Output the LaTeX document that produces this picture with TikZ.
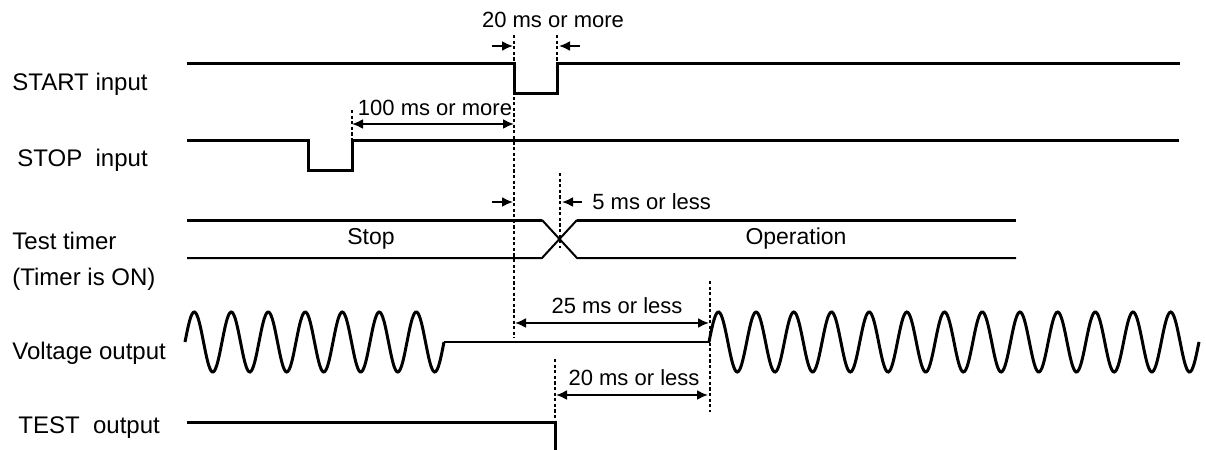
\documentclass[tikz,border=0pt]{standalone}
\usepackage{fontspec}
\setmainfont{Liberation Sans}
\usetikzlibrary{arrows.meta, calc}

\begin{document}
\begin{tikzpicture}[
  x=0.5pt, y=-0.5pt,
  >={Latex[length=5.5pt, width=5pt]},
  every node/.style={font=\fontsize{11}{13}\selectfont, inner sep=1pt},
  sigline/.style={line width=1.5pt},
  sigthin/.style={line width=1pt},
  guide/.style={line width=0.8pt, dash pattern=on 1.6pt off 1.2pt},
  dimline/.style={line width=1pt},
  siglabel/.style={anchor=west, font=\fontsize{12}{14}\selectfont}
]
\useasboundingbox (0,0) rectangle (1206,450);
\node[siglabel] (lStart) at (10,84) {START input};
\node[siglabel] (lStop) at (15,160) {STOP\ \ input};
\node[siglabel] (lTimer) at (10,241) {Test timer};
\node[siglabel] (lTimerOn) at (10,279) {(Timer is ON)};
\node[siglabel] (lVolt) at (10,353) {Voltage output};
\node[siglabel] (lTest) at (16,428) {TEST\ \ output};
\coordinate (g1a) at (514,35);  \coordinate (g1b) at (514,338);
\coordinate (g2a) at (557,35);  \coordinate (g2b) at (557,63);
\coordinate (g3a) at (352,110); \coordinate (g3b) at (352,140);
\coordinate (g4a) at (560,173); \coordinate (g4b) at (560,248);
\coordinate (g5a) at (710,281); \coordinate (g5b) at (710,412);
\coordinate (g6a) at (555,359); \coordinate (g6b) at (555,422);
\foreach \a/\b in {g1a/g1b, g2a/g2b, g3a/g3b, g4a/g4b, g5a/g5b, g6a/g6b}
  \draw[guide] (\a) -- (\b);
\draw[sigline] (187,63) -- (514,63) -- (514,93) -- (557,93) -- (557,63) -- (1180,63);
\draw[sigline] (187,140) -- (308,140) -- (308,170) -- (352,170) -- (352,140) -- (1179,140);
\draw[sigthin] (187,258) -- (542,258) -- (577,220);
\draw[sigthin] (542,220) -- (577,258) -- (1016,258);
\draw[sigline] (187,220) -- (542,220);
\draw[sigline] (577,220) -- (1016,220);
\node[font=\fontsize{11.5}{13}\selectfont] (tStop) at (371,239) {Stop};
\node[font=\fontsize{11.5}{13}\selectfont] (tOper) at (796,239) {Operation};
\draw[sigline, smooth, samples=220, domain=185:444]
  plot (\x, {342-30*sin(9.7297*(\x-185))});
\draw[sigthin] (444,342) -- (710,342);
\draw[sigline, smooth, samples=400, domain=709:1199]
  plot (\x, {342-30*sin(9.5516*(\x-709))});
\draw[sigline] (187,422) -- (555,422) -- (555,450);
\node (d20more) at (553,20) {20 ms or more};
\draw[dimline, ->] ($(g1a)+(-22,11)$) -- ($(g1a)+(-1,11)$);
\draw[dimline, ->] ($(g2a)+(23,11)$) -- ($(g2a)+(2,11)$);
\node (d100more) at (435,108) {100 ms or more};
\draw[dimline, <->] ($(g3a)+(0,14)$) -- ($(g1a)+(0,89)$);
\node[anchor=west] (d5less) at (590,202) {5 ms or less};
\draw[dimline, ->] (492,202) -- ($(g1a)+(-1,167)$);
\draw[dimline, ->] ($(d5less.west)+(-8,0)$) -- ($(g4a)+(2,29)$);
\node (d25less) at (617,306) {25 ms or less};
\draw[dimline, <->] ($(g1a)+(1,288)$) -- ($(g5a)+(-1,42)$);
\node (d20less) at (634,378) {20 ms or less};
\draw[dimline, <->] ($(g6a)+(1,36)$) -- ($(g5a)+(-2,114)$);
\end{tikzpicture}
\end{document}
